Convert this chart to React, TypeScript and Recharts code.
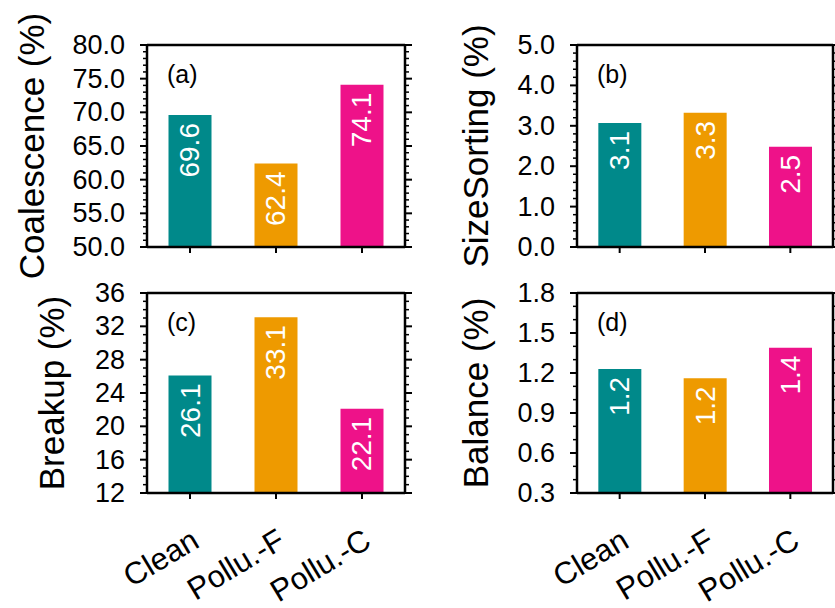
import React from 'react';
import { BarChart, Bar, XAxis, YAxis, Cell, LabelList } from 'recharts';

const categories = ['Clean', 'Pollu.-F', 'Pollu.-C'];
const colors = ['#00898A', '#EE9A00', '#EE1289'];

const coalescence = [69.6, 62.4, 74.1];
const sizeSorting = [3.07, 3.32, 2.48];
const breakup = [26.1, 33.1, 22.1];
const balance = [1.23, 1.16, 1.39];

const coalescenceTicks = [50, 55, 60, 65, 70, 75, 80];
const sizeSortingTicks = [0, 1, 2, 3, 4, 5];
const breakupTicks = [12, 16, 20, 24, 28, 32, 36];
const balanceTicks = [0.3, 0.6, 0.9, 1.2, 1.5, 1.8];

const FONT = 'Liberation Sans, Arial, Helvetica, sans-serif';

function withMinors(majors: number[], perGap: number) {
  const out: number[] = [];
  for (let i = 0; i < majors.length; i++) {
    out.push(majors[i]);
    if (i < majors.length - 1) {
      const step = (majors[i + 1] - majors[i]) / (perGap + 1);
      for (let k = 1; k <= perGap; k++) {
        out.push(+(majors[i] + step * k).toFixed(4));
      }
    }
  }
  return out;
}

type PanelProps = {
  left: number;
  top: number;
  width: number;
  height: number;
  plot: { top: number; right: number; bottom: number; left: number };
  values: number[];
  majors: number[];
  minorsPerGap: number;
  decimals: number;
  yLabel: string;
  yLabelX: number;
  tag: string;
  showCats: boolean;
};

const Panel = (p: PanelProps) => {
  const data = categories.map((c, i) => ({ name: c, value: p.values[i] }));
  const ticks = withMinors(p.majors, p.minorsPerGap);
  const majorSet = new Set(p.majors.map((m) => +m.toFixed(4)));
  const domain = [p.majors[0], p.majors[p.majors.length - 1]];
  const cy = (p.plot.top + p.plot.bottom) / 2;
  const margin = {
    top: p.plot.top - 1,
    left: p.plot.left - 1,
    right: p.width - p.plot.right - 1,
    bottom: p.height - p.plot.bottom - 1,
  };

  const LeftTick = (props: any) => {
    const { x, y, payload } = props;
    const isMajor = majorSet.has(+Number(payload.value).toFixed(4));
    return (
      <g>
        <line x1={x} x2={x - (isMajor ? 7 : 4)} y1={y} y2={y} stroke="#000" strokeWidth={isMajor ? 2 : 1.5} />
        {isMajor && (
          <text x={x - 22} y={y} textAnchor="end" dominantBaseline="central" fontSize={27} fontFamily={FONT} fill="#000">
            {Number(payload.value).toFixed(p.decimals)}
          </text>
        )}
      </g>
    );
  };
  const RightTick = (props: any) => {
    const { x, y, payload } = props;
    const isMajor = majorSet.has(+Number(payload.value).toFixed(4));
    return (
      <line x1={x} x2={x + (isMajor ? 7 : 4)} y1={y} y2={y} stroke="#000" strokeWidth={isMajor ? 2 : 1.5} />
    );
  };
  const CatTick = (props: any) => {
    const { x, y, payload } = props;
    if (!p.showCats) return <g />;
    const ax = x + 11;
    const ay = y + 47;
    return (
      <text x={ax} y={ay} textAnchor="end" fontSize={31} fontFamily={FONT} fill="#000" transform={`rotate(-31, ${ax}, ${ay})`}>
        {payload.value}
      </text>
    );
  };
  const BarLabel = (props: any) => {
    const { x, y, width, value } = props;
    const lx = x + width / 2;
    const ly = y + 8;
    return (
      <text x={lx} y={ly} textAnchor="end" dominantBaseline="central" fontSize={28} fontFamily={FONT} fill="#fff" transform={`rotate(-90, ${lx}, ${ly})`}>
        {Number(value).toFixed(1)}
      </text>
    );
  };

  return (
    <div style={{ position: 'absolute', left: p.left, top: p.top, width: p.width, height: p.height }}>
      <BarChart width={p.width} height={p.height} data={data} margin={margin} barCategoryGap="25%" style={{ overflow: 'visible' }}>
        <XAxis dataKey="name" xAxisId="bottom" orientation="bottom" height={1} tickSize={6} tickMargin={0}
          axisLine={{ stroke: '#000', strokeWidth: 2.5 }} tickLine={{ stroke: '#000', strokeWidth: 2 }} tick={<CatTick />} interval={0} />
        <XAxis dataKey="name" xAxisId="top" orientation="top" height={1} tick={false} tickSize={6}
          axisLine={{ stroke: '#000', strokeWidth: 2.5 }} tickLine={{ stroke: '#000', strokeWidth: 2 }} interval={0} />
        <YAxis yAxisId="left" orientation="left" width={1} type="number" domain={domain} ticks={ticks}
          interval={0} tickSize={0} tickMargin={0} tickLine={false} axisLine={{ stroke: '#000', strokeWidth: 2.5 }}
          tick={<LeftTick />} allowDataOverflow />
        <YAxis yAxisId="right" orientation="right" width={1} type="number" domain={domain} ticks={ticks}
          interval={0} tickSize={0} tickMargin={0} tickLine={false} axisLine={{ stroke: '#000', strokeWidth: 2.5 }}
          tick={<RightTick />} allowDataOverflow />
        <Bar dataKey="value" xAxisId="bottom" yAxisId="left" isAnimationActive={false}>
          {data.map((d, i) => (
            <Cell key={d.name} fill={colors[i]} />
          ))}
          <LabelList dataKey="value" content={<BarLabel />} />
        </Bar>
      </BarChart>
      <svg style={{ position: 'absolute', left: 0, top: 0, pointerEvents: 'none', overflow: 'visible' }} width={p.width} height={p.height}>
        <text x={p.plot.left + 20} y={p.plot.top + 38} fontSize={25} fontFamily={FONT} fill="#000">{p.tag}</text>
        <text x={p.yLabelX} y={cy} textAnchor="middle" fontSize={35} fontFamily={FONT} fill="#000"
          transform={`rotate(-90, ${p.yLabelX}, ${cy})`}>{p.yLabel}</text>
      </svg>
    </div>
  );
};

export default function App() {
  return (
    <div style={{ position: 'absolute', left: 0, top: 0, width: 835, height: 608, overflow: 'hidden', background: '#fff' }}>
      <Panel left={0} top={248} width={420} height={360} plot={{ top: 45, right: 405, bottom: 245, left: 147 }}
        values={breakup} majors={breakupTicks} minorsPerGap={3} decimals={0}
        yLabel="Breakup (%)" yLabelX={64} tag="(c)" showCats={true} />
      <Panel left={430} top={248} width={405} height={360} plot={{ top: 45, right: 403, bottom: 245, left: 147 }}
        values={balance} majors={balanceTicks} minorsPerGap={2} decimals={1}
        yLabel="Balance (%)" yLabelX={58} tag="(d)" showCats={true} />
      <Panel left={0} top={0} width={420} height={262} plot={{ top: 45, right: 405, bottom: 247, left: 147 }}
        values={coalescence} majors={coalescenceTicks} minorsPerGap={4} decimals={1}
        yLabel="Coalescence (%)" yLabelX={44} tag="(a)" showCats={false} />
      <Panel left={430} top={0} width={405} height={262} plot={{ top: 45, right: 403, bottom: 247, left: 147 }}
        values={sizeSorting} majors={sizeSortingTicks} minorsPerGap={4} decimals={1}
        yLabel="SizeSorting (%)" yLabelX={58} tag="(b)" showCats={false} />
    </div>
  );
}
